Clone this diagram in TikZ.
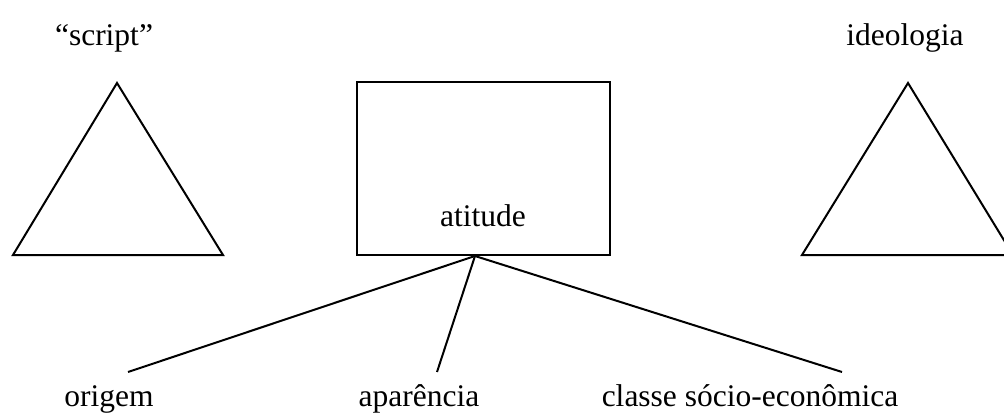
\documentclass[tikz,border=0pt]{standalone}
\usepackage{fontspec}
\setmainfont{Liberation Serif}
\begin{document}
\begin{tikzpicture}[x=1pt,y=-1pt,
  lbl/.style={anchor=base,inner sep=0pt,font=\fontsize{31.5}{36}\selectfont},
  shapeline/.style={line width=2pt,line join=miter},
  link/.style={line width=2pt}]
\useasboundingbox (0,0) rectangle (1004,414);
% triangles
\draw[shapeline] (117,83) -- (223,255) -- (13,255) -- cycle;
\draw[shapeline] (908,83) -- (1013,255) -- (802,255) -- cycle;
% box
\node[draw,line width=2pt,minimum width=253pt,minimum height=173pt,inner sep=0pt] (box) at (483.5,168.5) {};
\node[lbl] (att) at (483,227) {atitude};
% labels
\node[lbl] (script) at (104,46) {“script”};
\node[lbl] (ideo) at (905,46) {ideologia};
\node[lbl] (orig) at (109,406) {origem};
\node[lbl] (apar) at (419,406) {aparência};
\node[lbl] (classe) at (750,406) {classe sócio-econômica};
% connectors
\coordinate (conv) at ([xshift=-8.5pt]box.south);
\coordinate (oend) at (128,372);
\coordinate (aend) at (437,372);
\coordinate (cend) at (842,372);
\draw[link] (conv) -- (oend);
\draw[link] (conv) -- (aend);
\draw[link] (conv) -- (cend);
\end{tikzpicture}
\end{document}
